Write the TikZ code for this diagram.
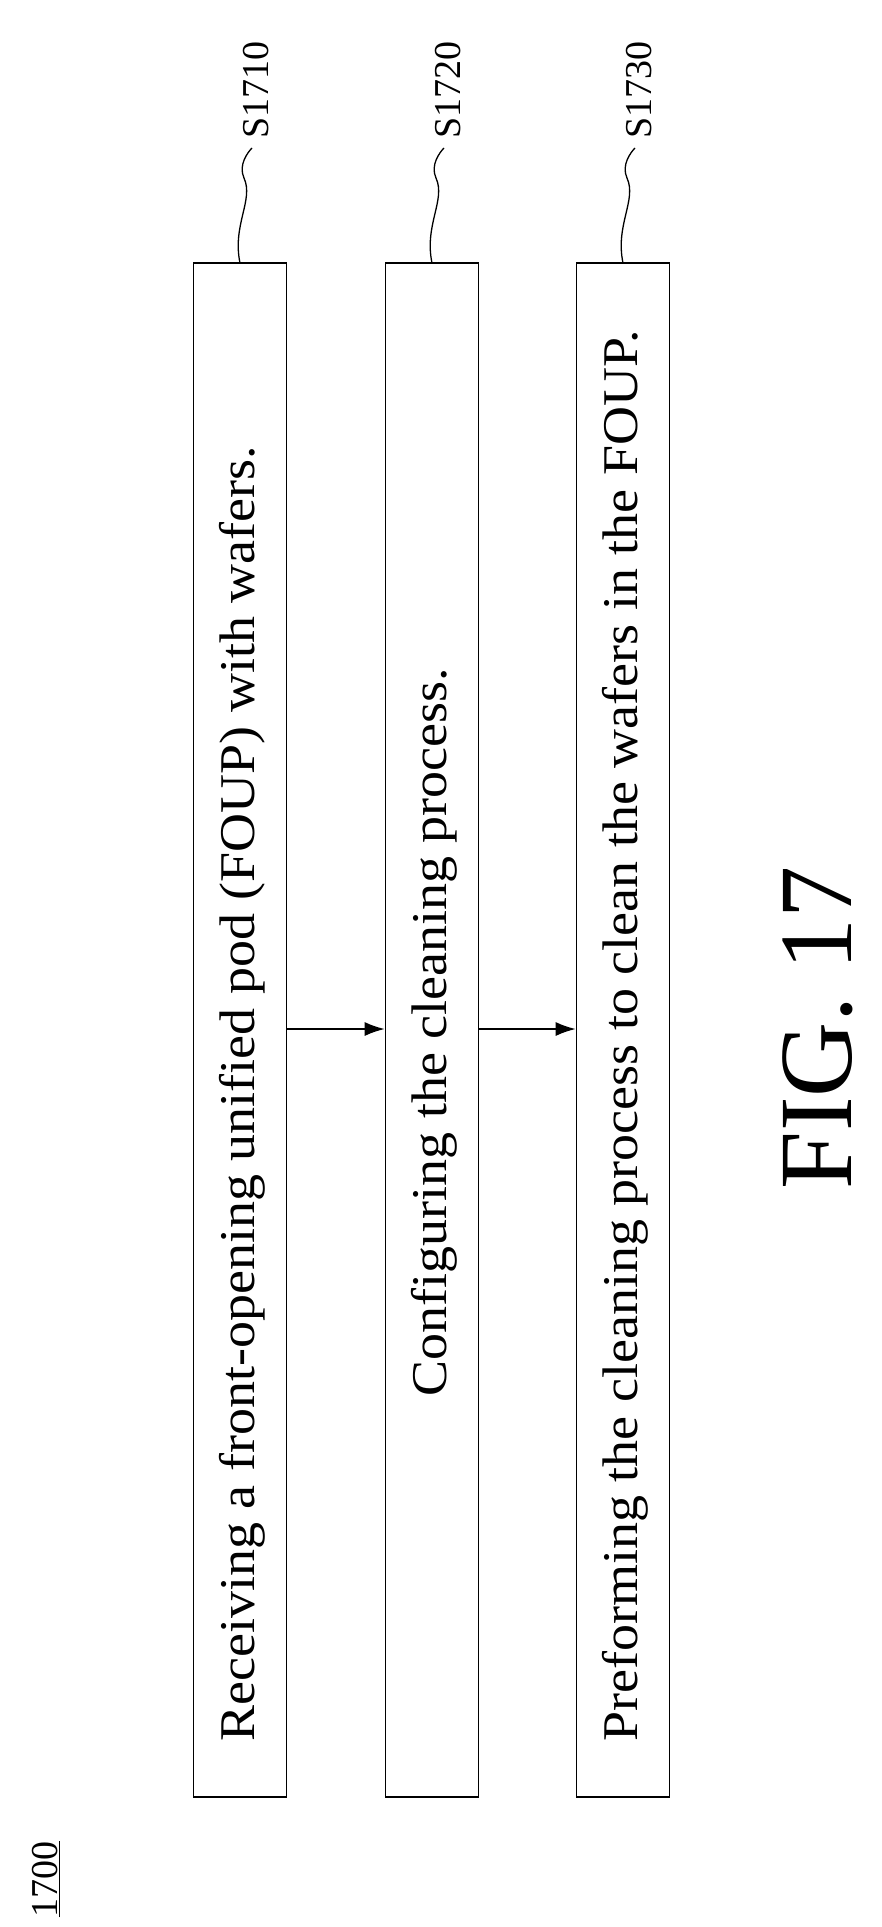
\documentclass[tikz,border=0pt]{standalone}
\usepackage{fontspec}
\setmainfont{Liberation Serif}
\usetikzlibrary{positioning,arrows.meta}
\tikzset{
  stepbox/.style={draw, line width=1.6pt, minimum width=1534pt, minimum height=93pt, rotate=90, inner sep=0pt},
  steptext/.style={font=\fontsize{50}{50}\selectfont},
  flow/.style={line width=1.6pt, -{Latex[length=20pt,width=14pt]}}
}
\begin{document}
\begin{tikzpicture}[x=1pt,y=-1pt]
\useasboundingbox (0,0) rectangle (882,1927);
\node[stepbox] (s1) at (240,1030) {};
\node[stepbox] (s2) at (432,1030) {};
\node[stepbox] (s3) at (623,1030) {};
\node[steptext, rotate=90, anchor=west] at (242,1745) {\scalebox{1.08}[1]{Receiving a front-opening unified pod (FOUP) with wafers.}};
\node[steptext, rotate=90, anchor=west] at (434,1400) {\scalebox{1.08}[1]{Configuring the cleaning process.}};
\node[steptext, rotate=90, anchor=west] at (625,1745) {\scalebox{1.08}[1]{Preforming the cleaning process to clean the wafers in the FOUP.}};
\draw[flow] (s1.south |- 0,1029) -- (s2.north |- 0,1029);
\draw[flow] (s2.south |- 0,1029) -- (s3.north |- 0,1029);
% step labels
\foreach \n/\x/\lab in {1/240/S1710, 2/432/S1720, 3/623/S1730}{
  \draw[line width=1.3pt] (\x,263) .. controls (\x-8,225) and (\x+14,200) .. (\x+4,178)
        .. controls (\x-2,165) and (\x+8,152) .. (\x+12,148);
  \node[rotate=90, anchor=west, font=\fontsize{38}{38}\selectfont] (lab\n) at (\x+16,142) {\lab};
}
\node[rotate=90, font=\fontsize{104}{104}\selectfont] (fig) at (818,1028) {FIG. 17};
\node[rotate=90, anchor=west, font=\fontsize{38}{38}\selectfont] (num) at (46,1921) {\underline{1700}};
\end{tikzpicture}
\end{document}
